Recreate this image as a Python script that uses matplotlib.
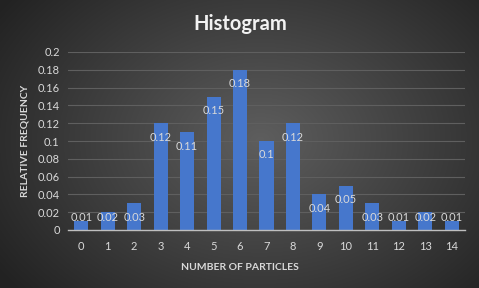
import numpy as np
import matplotlib.pyplot as plt

particles = [str(i) for i in range(15)]
rel_freq = [0.01, 0.02, 0.03, 0.12, 0.11, 0.15, 0.18, 0.10, 0.12,
            0.04, 0.05, 0.03, 0.01, 0.02, 0.01]
label_text = ['0.01', '0.02', '0.03', '0.12', '0.11', '0.15', '0.18', '0.1', '0.12',
              '0.04', '0.05', '0.03', '0.01', '0.02', '0.01']
y_ticks = [0, 0.02, 0.04, 0.06, 0.08, 0.1, 0.12, 0.14, 0.16, 0.18, 0.2]
y_tick_labels = ['0', '0.02', '0.04', '0.06', '0.08', '0.1', '0.12', '0.14', '0.16', '0.18', '0.2']

plt.rcParams['font.family'] = ['Lato', 'DejaVu Sans']

fig = plt.figure(figsize=(4.79, 2.88), dpi=100)

# radial gradient background, Excel dark style
bg = fig.add_axes([0, 0, 1, 1])
yy, xx = np.mgrid[0:288, 0:479]
r = np.sqrt(((xx - 260) / 300.0) ** 2 + ((yy - 140) / 220.0) ** 2)
shade = np.clip(0.37 - 0.22 * r, 0.14, 0.37)
bg.imshow(shade, cmap='gray', vmin=0, vmax=1, aspect='auto', extent=[0, 1, 0, 1])
bg.axis('off')

ax = fig.add_axes([68 / 479, 58 / 288, 397 / 479, 178 / 288])
ax.patch.set_alpha(0)
x = np.arange(len(particles))
ax.bar(x, rel_freq, width=0.53, color='#4677cc', zorder=3)

for xi, v, t in zip(x, rel_freq, label_text):
    ax.text(xi, max(v - 0.0157, 0.0135), t, ha='center', va='center',
            color='#d9d9d9', fontsize=8, zorder=4)

ax.set_xlim(-0.5, 14.5)
ax.set_ylim(0, 0.2)
ax.set_xticks(x)
ax.set_xticklabels(particles)
ax.set_yticks(y_ticks)
ax.set_yticklabels(y_tick_labels)
ax.tick_params(length=0, colors='#d9d9d9', labelsize=8, pad=6)
ax.tick_params(axis='x', pad=8)
ax.grid(axis='y', color='#5f5f5f', linewidth=0.8, zorder=0)
for s in ['top', 'right', 'left']:
    ax.spines[s].set_visible(False)
ax.spines['bottom'].set_color('#bfbfbf')
ax.spines['bottom'].set_linewidth(1.0)
ax.spines['bottom'].set_zorder(5)

# axis titles are centred on the chart area, not the plot area
fig.text(240 / 479, 1 - 267 / 288, 'NUMBER OF PARTICLES', ha='center', va='center',
         color='#d9d9d9', fontsize=7.5, fontweight='bold')
ax.set_ylabel('RELATIVE FREQUENCY', color='#d9d9d9', fontsize=7.5,
              fontweight='bold', labelpad=6)
fig.text(240 / 479, 1 - 24 / 288, 'Histogram', ha='center', va='center', color='#f2f2f2',
         fontsize=14.5, fontweight='bold')

fig.savefig('out.png', dpi=100)
